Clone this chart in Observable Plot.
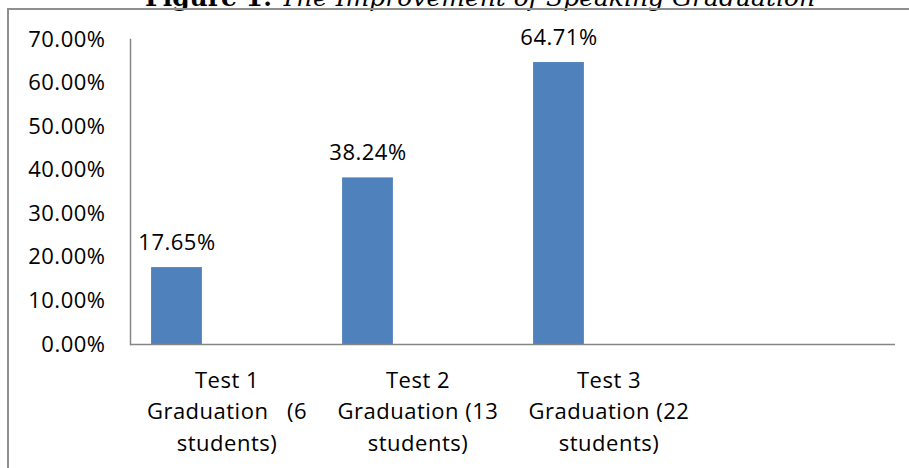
<!DOCTYPE html>
<html>
<head>
<meta charset="utf-8">
<script src="https://cdn.jsdelivr.net/npm/d3@7"></script>
<script src="https://cdn.jsdelivr.net/npm/@observablehq/plot@0.6"></script>
<style>
  html, body { margin: 0; padding: 0; background: #fff; overflow: hidden; }
  body { width: 909px; height: 468px; position: relative; }
  #title { position: absolute; left: 0; width: 960px; top: -15px; text-align: center;
           font-family: "DejaVu Serif", "Liberation Serif", serif; font-size: 25px; line-height: 25px; color: #000; white-space: nowrap; }
  #title b { font-style: normal; }
  #title i { font-style: italic; }
  #border { position: absolute; left: 7px; top: 8px; width: 1000px; height: 1000px; border: 2px solid #8f8f8f; box-sizing: border-box; }
  #chart { position: absolute; left: 0; top: 0; }
</style>
</head>
<body>
<div id="title"><b>Figure 1:</b> <i>The Improvement of Speaking Graduation</i></div>
<div id="border"></div>
<div id="chart"></div>
<script>
// Categories (4th slot in the original chart is empty)
const categories = [
  "Test 1\nGraduation\u00a0\u00a0\u00a0(6\nstudents)",
  "Test 2\nGraduation (13\nstudents)",
  "Test 3\nGraduation (22\nstudents)",
  " "
];
const values = [0.1765, 0.3824, 0.6471];
const yTicks = [0, 0.1, 0.2, 0.3, 0.4, 0.5, 0.6, 0.7];

const data = values.map((v, i) => ({cat: categories[i], value: v}));
const pct = d3.format(".2%");

const W = 909, H = 468;
const mL = 130, mR = 14;
const band = (W - mL - mR) / categories.length;
const barStart = band * 0.105, barWidth = band * 0.267;

const plot = Plot.plot({
  width: W,
  height: H,
  marginLeft: mL,
  marginRight: mR,
  marginTop: 39,
  marginBottom: 124,
  style: {fontFamily: "'Open Sans', sans-serif", fontSize: "22px", letterSpacing: "0.5px", color: "#000", background: "transparent"},
  x: {domain: categories, padding: 0, axis: null},
  y: {domain: [0, 0.7], axis: null},
  marks: [
    Plot.barY(data, {x: "cat", y: "value", fill: "#4F81BD",
      insetLeft: barStart, insetRight: band - barStart - barWidth}),
    Plot.text(data, {x: "cat", y: "value", text: d => pct(d.value),
      dx: barStart + barWidth / 2 - band / 2, dy: -25, fontSize: 22, fill: "#000"}),
    Plot.axisY({ticks: yTicks, tickFormat: pct, tickSize: 0, tickPadding: 25, fontSize: 22, fill: "#000", label: null}),
    Plot.axisX({tickSize: 0, tickPadding: 21, fontSize: 22, lineHeight: 1.43, fill: "#000", label: null}),
    Plot.frame({anchor: "left", stroke: "#868686", strokeWidth: 1.5}),
    Plot.ruleY([0], {stroke: "#868686", strokeWidth: 1.5})
  ]
});
document.getElementById("chart").appendChild(plot);
</script>
</body>
</html>
